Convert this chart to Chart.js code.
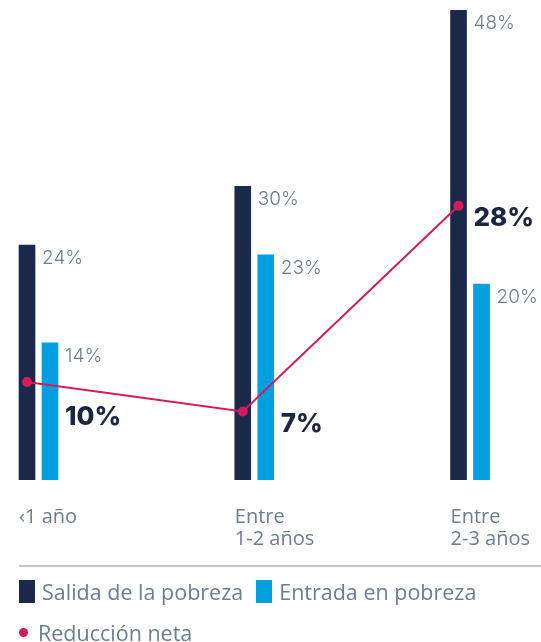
<!DOCTYPE html>
<html lang="es">
<head>
    <meta charset="UTF-8">
    <title>Salida y entrada en pobreza</title>
    <script src="https://cdn.jsdelivr.net/npm/chart.js"></script>
    <style>
        body {
            margin: 0;
            background: #ffffff;
            font-family: "Open Sans", sans-serif;
        }
        #chartBox {
            width: 541px;
            height: 576px;
            position: relative;
        }
        #legend {
            margin: -11px 0 0 19px; /* rule sits at y=565 */
            border-top: 2px solid #c4c5d0;
            color: #6c7e8f;
            font-size: 21.5px;
            position: relative;
        }
        #legend .row {
            display: flex;
            align-items: center;
            height: 23px;
            white-space: nowrap;
        }
        #legend .row:first-child { padding-top: 13px; }
        #legend .row + .row { margin-top: 18px; }
        .sq {
            display: inline-block;
            width: 16px;
            height: 23px;
            margin-right: 7px;
        }
        .dot {
            display: inline-block;
            width: 9px;
            height: 9px;
            border-radius: 50%;
            margin-right: 10px;
        }
    </style>
</head>
<body>

<div id="chartBox">
    <canvas id="povertyChart"></canvas>
</div>
<div id="legend"></div>

<script>
    // data
    const categories = [['‹1 año'], ['Entre', '1-2 años'], ['Entre', '2-3 años']];
    const exitValues = [24, 30, 48];   // Salida de la pobreza
    const entryValues = [14, 23, 20];  // Entrada en pobreza
    const netValues = [10, 7, 28];     // Reducción neta

    const seriesNames = ['Salida de la pobreza', 'Entrada en pobreza', 'Reducción neta'];
    const colors = ['#1b2a4b', '#009fe0', '#d41c5c'];

    // legend below the chart
    const legend = document.getElementById('legend');
    legend.innerHTML =
        '<div class="row"><span class="sq" style="background:' + colors[0] + '"></span>' + seriesNames[0] +
        '<span class="sq" style="background:' + colors[1] + ';margin-left:13px"></span>' + seriesNames[1] + '</div>' +
        '<div class="row"><span class="dot" style="background:' + colors[2] + '"></span>' + seriesNames[2] + '</div>';

    // the two bars of a group sit this far (in category units) either side of the category
    const pairOffset = 0.0533;
    // x range so the groups land where they are in the picture
    const xMin = -0.1785;
    const xMax = 2.329;

    // value labels next to the bars and the bold net labels
    const netNudge = [35, 13, 12];
    const valueLabels = {
        id: 'valueLabels',
        afterDatasetsDraw(chart) {
            const c = chart.ctx;
            c.save();
            c.textAlign = 'left';
            c.textBaseline = 'middle';
            c.font = '300 19px Inter';
            c.fillStyle = '#6a7e90';
            [0, 1].forEach(d => {
                chart.getDatasetMeta(d).data.forEach((bar, i) => {
                    c.fillText(chart.data.datasets[d].data[i].y + '%', bar.x + bar.width / 2 + 7, bar.y + 13);
                });
            });
            const dark = chart.getDatasetMeta(0).data;
            const light = chart.getDatasetMeta(1).data;
            c.font = '800 26px Inter';
            c.fillStyle = '#1c2541';
            chart.getDatasetMeta(2).data.forEach((pt, i) => {
                const beside = light[i].y < pt.y - 10 ? light[i] : dark[i];
                c.fillText(netValues[i] + '%', beside.x + beside.width / 2 + 7, pt.y + netNudge[i]);
            });
            c.restore();
        }
    };

    const ctx = document.getElementById('povertyChart').getContext('2d');
    const povertyChart = new Chart(ctx, {
        type: 'bar',
        data: {
            datasets: [{
                label: seriesNames[0],
                data: exitValues.map((v, i) => ({ x: i - pairOffset, y: v })),
                backgroundColor: colors[0],
                order: 1
            }, {
                label: seriesNames[1],
                data: entryValues.map((v, i) => ({ x: i + pairOffset, y: v })),
                backgroundColor: colors[1],
                order: 1
            }, {
                type: 'line',
                label: seriesNames[2],
                data: netValues.map((v, i) => ({ x: i - pairOffset, y: v })),
                borderColor: colors[2],
                backgroundColor: colors[2],
                borderWidth: 2,
                pointRadius: 5,
                pointBorderWidth: 0,
                order: 0
            }]
        },
        options: {
            responsive: true,
            maintainAspectRatio: false,
            animation: false,
            datasets: {
                bar: { barThickness: 16, grouped: false }
            },
            layout: {
                autoPadding: false,
                padding: { top: 10, left: 0, right: 0, bottom: 0 }
            },
            plugins: {
                legend: { display: false },
                tooltip: { enabled: false }
            },
            scales: {
                x: {
                    type: 'linear',
                    offset: false,
                    min: xMin,
                    max: xMax,
                    grid: { display: false, drawTicks: false },
                    border: { display: false },
                    afterBuildTicks(scale) {
                        scale.ticks = categories.map((c, i) => ({ value: i }));
                    },
                    ticks: {
                        callback: (value, index) => categories[index],
                        align: 'start',
                        labelOffset: -19.5,
                        padding: 26,
                        color: '#6c7e8f',
                        font: { family: 'Open Sans', size: 20, lineHeight: 1.1 },
                        maxRotation: 0,
                        autoSkip: false
                    },
                    afterFit(scale) {
                        scale.paddingLeft = 0;
                        scale.paddingRight = 0;
                    }
                },
                y: {
                    display: false,
                    min: 0,
                    max: 48
                }
            }
        },
        plugins: [valueLabels]
    });
</script>

</body>
</html>
